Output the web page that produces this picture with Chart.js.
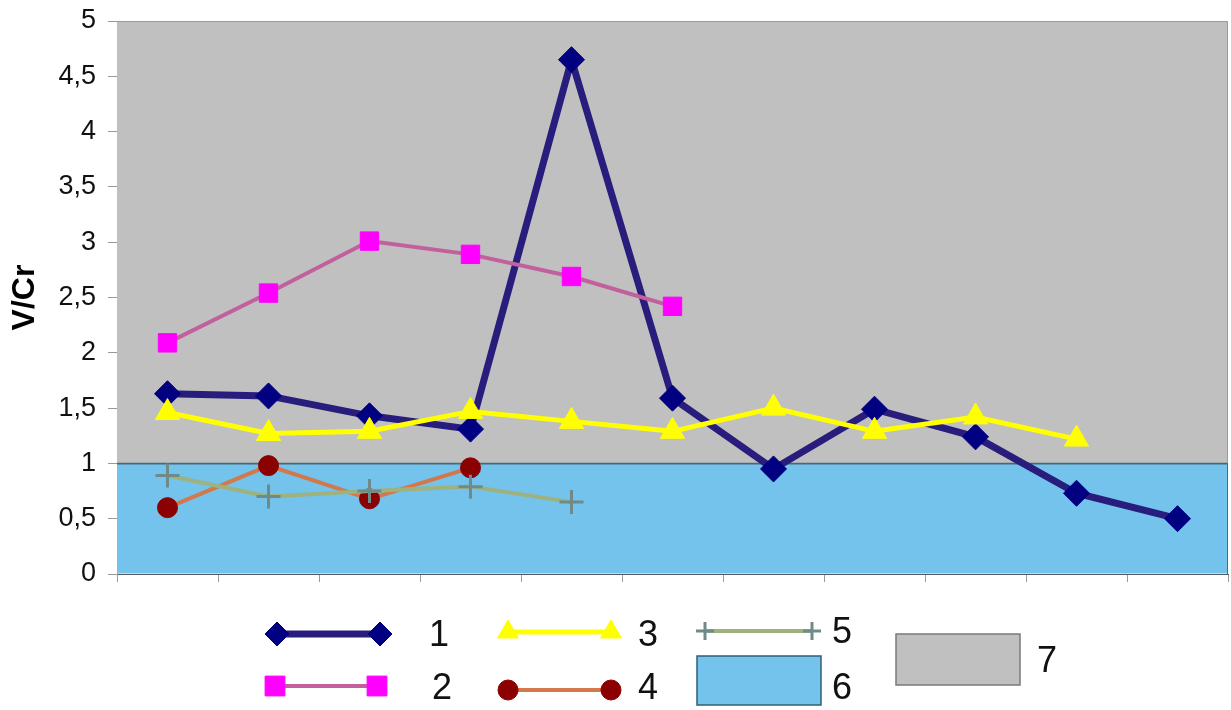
<!DOCTYPE html>
<html>
<head>
<meta charset="utf-8">
<script src="https://cdn.jsdelivr.net/npm/chart.js@4/dist/chart.umd.min.js"></script>
<style>
html,body{margin:0;padding:0;background:#fff;}
#wrap{position:relative;width:1231px;height:710px;}
</style>
</head>
<body>
<div id="wrap"><canvas id="c" width="1231" height="710"></canvas></div>
<script>
const categories = ['1','2','3','4','5','6','7','8','9','10','11'];
const series1 = [1.63, 1.61, 1.43, 1.31, 4.65, 1.59, 0.95, 1.49, 1.24, 0.73, 0.50];
const series2 = [2.09, 2.54, 3.01, 2.89, 2.69, 2.42];
const series3 = [1.46, 1.27, 1.29, 1.47, 1.38, 1.29, 1.50, 1.29, 1.42, 1.22];
const series4 = [0.60, 0.98, 0.68, 0.96];
const series5 = [0.89, 0.70, 0.75, 0.79, 0.65];
const zone6 = [[0,1],[0,1],[0,1],[0,1],[0,1],[0,1],[0,1],[0,1],[0,1],[0,1],[0,1]];
const zone7 = [[1,5],[1,5],[1,5],[1,5],[1,5],[1,5],[1,5],[1,5],[1,5],[1,5],[1,5]];
const yTickLabels = ['0','0,5','1','1,5','2','2,5','3','3,5','4','4,5','5'];
const legendLabels = ['1','2','3','4','5','6','7'];
const yTitle = 'V/Cr';

const FONT = "'Liberation Sans', Arial, sans-serif";

const styles = [
  {line:'#281c7c', pt:'#000080', ptBorder:'#000080', style:'rectRot', r:13, lw:7, lr:12},
  {line:'#c2609e', pt:'#ff00ff', ptBorder:'#ff00ff', style:'rect', r:13, lw:4, lr:14},
  {line:'#ffff00', pt:'#ffff00', ptBorder:'#ffff00', style:'triangle', r:14, lw:5, lr:12},
  {line:'#d2784a', pt:'#8b0000', ptBorder:'#8b0000', style:'circle', r:10, lw:4, lr:10},
  {line:'#9db27e', pt:'#6f8a88', ptBorder:'#6f8a88', style:'cross', r:12, lw:4, lr:9}
];
const seriesData = [series1, series2, series3, series4, series5];

const lineSets = seriesData.map((d, i) => ({
  type: 'line',
  label: legendLabels[i],
  data: d,
  borderColor: styles[i].line,
  borderWidth: styles[i].lw,
  backgroundColor: styles[i].pt,
  pointBackgroundColor: styles[i].pt,
  pointBorderColor: styles[i].ptBorder,
  pointBorderWidth: styles[i].style === 'cross' ? 3 : 1,
  pointStyle: styles[i].style,
  pointRadius: styles[i].r,
  pointHoverRadius: styles[i].r,
  tension: 0,
  fill: false,
  order: 5 - i
}));

const legendPlugin = {
  id: 'customLegend',
  afterDraw(chart) {
    const ctx = chart.ctx;
    ctx.save();
    const items = [
      {i:0, x1:277, x2:380, y:634, tx:429, ty:636},
      {i:1, x1:275, x2:377, y:686, tx:432, ty:689},
      {i:2, x1:508, x2:611, y:632, tx:638, ty:636},
      {i:3, x1:508, x2:611, y:690, tx:638, ty:689},
      {i:4, x1:705, x2:812, y:631, tx:832, ty:633}
    ];
    items.forEach(it => {
      const s = styles[it.i];
      ctx.strokeStyle = s.line;
      ctx.lineWidth = s.lw;
      ctx.beginPath();
      ctx.moveTo(it.x1, it.y);
      ctx.lineTo(it.x2, it.y);
      ctx.stroke();
      [it.x1, it.x2].forEach(px => {
        ctx.fillStyle = s.pt;
        ctx.strokeStyle = s.ptBorder;
        ctx.lineWidth = s.style === 'cross' ? 3 : 1;
        Chart.helpers.drawPoint(ctx, {pointStyle: s.style, radius: s.lr, rotation: 0, borderWidth: ctx.lineWidth}, px, it.y);
      });
      ctx.fillStyle = '#111';
      ctx.font = "36px " + FONT;
      ctx.textBaseline = 'middle';
      ctx.textAlign = 'left';
      ctx.fillText(legendLabels[it.i], it.tx, it.ty);
    });
    ctx.fillStyle = '#73c3ed';
    ctx.fillRect(697, 656, 124, 49);
    ctx.strokeStyle = '#2f5f78';
    ctx.lineWidth = 1.5;
    ctx.strokeRect(697, 656, 124, 49);
    ctx.fillStyle = '#111';
    ctx.fillText(legendLabels[5], 832, 689);
    ctx.fillStyle = '#c0c0c0';
    ctx.fillRect(896, 634, 124, 51);
    ctx.strokeStyle = '#7a7a7a';
    ctx.strokeRect(896, 634, 124, 51);
    ctx.fillStyle = '#111';
    ctx.fillText(legendLabels[6], 1037, 662);
    ctx.restore();
  }
};

const borderPlugin = {
  id: 'areaBorder',
  afterDatasetsDraw(chart) {
    const a = chart.chartArea;
    const ctx = chart.ctx;
    const y1 = chart.scales.y.getPixelForValue(1);
    ctx.save();
    ctx.lineWidth = 1;
    ctx.strokeStyle = '#9a9a9a';
    ctx.beginPath();
    ctx.moveTo(a.left, a.top + 0.5);
    ctx.lineTo(a.right - 0.5, a.top + 0.5);
    ctx.lineTo(a.right - 0.5, y1);
    ctx.stroke();
    ctx.strokeStyle = '#3f6f86';
    ctx.beginPath();
    ctx.moveTo(a.right - 0.5, y1);
    ctx.lineTo(a.right - 0.5, a.bottom);
    ctx.stroke();
    ctx.restore();
  }
};

new Chart(document.getElementById('c'), {
  data: {
    labels: categories,
    datasets: [
      ...lineSets,
      {
        type: 'bar', label: legendLabels[5], data: zone6,
        backgroundColor: '#73c3ed', borderColor: '#46687a',
        borderWidth: {top: 2, left: 0, right: 0, bottom: 0}, borderSkipped: false,
        inflateAmount: 1,
        barPercentage: 1.0, categoryPercentage: 1.0, grouped: false, order: 20
      },
      {
        type: 'bar', label: legendLabels[6], data: zone7,
        backgroundColor: '#c0c0c0', borderWidth: 0, inflateAmount: 1,
        barPercentage: 1.0, categoryPercentage: 1.0, grouped: false, order: 21
      }
    ]
  },
  options: {
    responsive: false,
    animation: false,
    events: [],
    layout: {autoPadding: false, padding: {top: 21, right: 3, bottom: 0, left: 0}},
    plugins: {legend: {display: false}, tooltip: {enabled: false}},
    scales: {
      x: {
        offset: true,
        grid: {offset: true, drawOnChartArea: false, drawTicks: true, tickLength: 8, color: '#9a9a9a'},
        border: {display: true, color: '#505a60', width: 1},
        ticks: {display: false},
        afterFit(scale) { scale.height = 136; }
      },
      y: {
        min: 0, max: 5,
        afterBuildTicks(scale) {
          scale.ticks = yTickLabels.map((t, i) => ({value: i * 0.5}));
        },
        grid: {drawOnChartArea: false, drawTicks: true, tickLength: 9, color: '#9a9a9a'},
        border: {display: true, color: '#9a9a9a', width: 1},
        ticks: {
          color: '#111',
          font: {family: FONT, size: 27},
          padding: 12,
          callback: (v, i) => yTickLabels[i]
        },
        title: {
          display: true, text: yTitle, color: '#000',
          font: {family: FONT, size: 32, weight: 'bold'}, padding: {top: 6, bottom: 0}
        },
        afterFit(scale) { scale.width = 117; scale.paddingTop = 0; scale.paddingBottom = 0; }
      }
    }
  },
  plugins: [borderPlugin, legendPlugin]
});
</script>
</body>
</html>
